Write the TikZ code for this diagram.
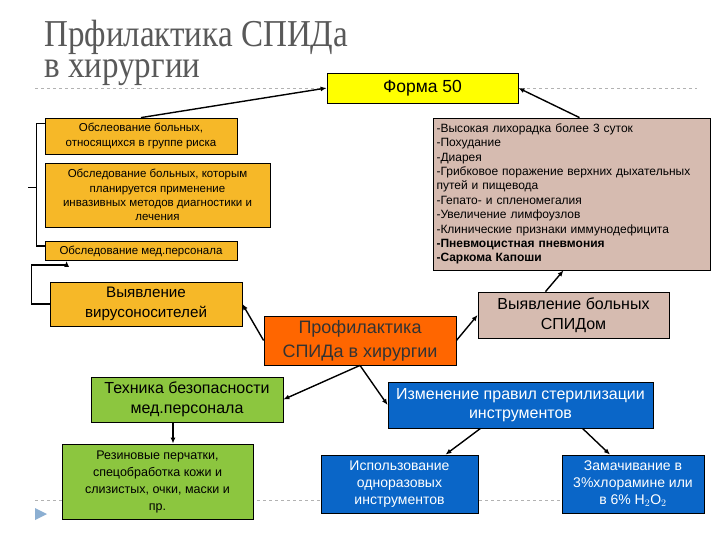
\documentclass[tikz,border=0pt]{standalone}
\usepackage{fontspec}
\setmainfont{Liberation Sans}
\setsansfont{Liberation Sans}
\newfontfamily\titlefont[FakeStretch=0.87]{Liberation Serif}
\usetikzlibrary{arrows.meta,positioning,calc}
\definecolor{formYellow}{RGB}{255,255,0}
\definecolor{checkGold}{RGB}{246,184,40}
\definecolor{signBrown}{RGB}{214,187,176}
\definecolor{coreOrange}{RGB}{255,102,0}
\definecolor{safeGreen}{RGB}{140,198,63}
\definecolor{sterBlue}{RGB}{10,102,200}
\definecolor{titleGray}{RGB}{89,89,89}
\definecolor{bulletBlue}{RGB}{140,175,210}
\newcommand{\fsz}[2]{\fontsize{#1}{#2}\selectfont}
\tikzset{hivpanel/.style={
  x=1pt, y=-1pt, font=\sffamily,
  box/.style={draw=black, line width=0.8pt, inner sep=1pt, align=center},
  gold/.style={box, fill=checkGold, font=\sffamily\fsz{11.5}{14.3}},
  brown/.style={box, fill=signBrown},
  green/.style={box, fill=safeGreen, font=\sffamily\fsz{16}{20}},
  blue/.style={box, fill=sterBlue, text=white},
  flow/.style={-{Latex[length=6pt,width=5pt]}, line width=1.4pt},
  wire/.style={line width=1.4pt},
  rule/.style={draw=black!30, dashed, line width=0.6pt},
  headline/.style={anchor=base west, inner sep=0pt, align=left, text=titleGray, font=\titlefont\fsz{38}{31}},
}}
\begin{document}
\begin{tikzpicture}[hivpanel]
\useasboundingbox[fill=white] (0,0) rectangle (720,540);
% ---------------- title and rules ----------------
\node[headline] (title) at (44,78) {Прфилактика СПИДа\\ в хирургии};
\draw[rule] (35,88) -- (697,88);
\draw[rule] (35,500) -- (697,500);
\fill[bulletBlue] (35,508) -- (47,514) -- (35,520) -- cycle;

% ---------------- top: Форма 50 ----------------
\node[box, fill=formYellow, minimum width=191, minimum height=30, font=\sffamily\fsz{17.5}{19}] (forma) at (422.5,88) {Форма 50};

% ---------------- left column: обследование ----------------
\node[gold, minimum width=192, minimum height=36] (risk) at (141,136) {Обслеование больных,\\ относящихся в группе риска};
\node[gold, minimum width=225, minimum height=64] (invas) at (157.5,195) {Обследование больных, которым\\ планируется применение\\ инвазивных методов диагностики и\\ лечения};
\node[gold, minimum width=192, minimum height=19] (staff) at (141,251) {Обследование мед.персонала};
\node[gold, minimum width=192, minimum height=44, font=\sffamily\fsz{15.2}{20}] (carriers) at (146,304) {Выявление\\ вирусоносителей};

% ---------------- right: признаки ----------------
\node[brown, minimum width=277, minimum height=152, align=left, text width=270, font=\sffamily\fsz{12}{14.4}] (symp) at (571.5,194) {%
  -Высокая лихорадка более 3 суток\\
  -Похудание\\
  -Диарея\\
  -Грибковое поражение верхних дыхательных\\
  путей и пищевода\\
  -Гепато- и спленомегалия\\
  -Увеличение лимфоузлов\\
  -Клинические признаки иммунодефицита\\
  \textbf{-Пневмоцистная пневмония}\\
  \textbf{-Саркома Капоши}};
\node[brown, minimum width=191, minimum height=46, font=\sffamily\fsz{16}{20}] (aids) at (573.5,315) {Выявление больных\\ СПИДом};

% ---------------- centre ----------------
\node[box, fill=coreOrange, text=black!80, minimum width=192, minimum height=49, font=\sffamily\fsz{18}{24}] (prof) at (360,340.5) {Профилактика\\ СПИДа в хирургии};

% ---------------- bottom left: защита персонала ----------------
\node[green, minimum width=192, minimum height=45] (tech) at (187,399.5) {Техника безопасности\\ мед.персонала};
\node[green, minimum width=191, minimum height=75, font=\sffamily\fsz{12.5}{17}] (gloves) at (157.5,481.5) {Резиновые перчатки,\\ спецобработка кожи и\\ слизистых, очки, маски и\\ пр.};

% ---------------- bottom right: стерилизация ----------------
\node[blue, minimum width=265, minimum height=46, font=\sffamily\fsz{16}{19}] (steril) at (520.5,405) {Изменение правил стерилизации\\ инструментов};
\node[blue, minimum width=157, minimum height=58, font=\sffamily\fsz{14}{17}] (disp) at (399.5,484) {Использование\\ одноразовых\\ инструментов};
\node[blue, minimum width=142, minimum height=58, font=\sffamily\fsz{14}{17}] (soak) at (633,484) {Замачивание в\\ 3\%хлорамине или\\ в 6\% H$_2$O$_2$};

% ---------------- connectors ----------------
\coordinate (stub) at (28,188);
\draw[wire] ([yshift=-6]risk.north west) -- ++(-8,0) |- ([yshift=-5]staff.north west);
\draw[line width=1pt] (stub) -- (37,188);
\draw[flow] (risk.north) -- (forma.west);
\draw[flow] ([xshift=8]symp.north) -- (forma.east);
\draw[flow] ([xshift=-28]aids.north) -- ([xshift=-8]symp.south);
\draw[flow] (carriers.west) -- ++(-18,0) |- ([xshift=22,yshift=-4]staff.south west) -- ([xshift=22]staff.south west);
\draw[flow] (prof.west) -- (carriers.east);
\draw[flow] (prof.east) -- (aids.west);
\draw[flow] (prof.south) -- (tech.east);
\draw[flow] (prof.south) -- (steril.west);
\draw[flow] ([xshift=-14]tech.south) -- ([xshift=-14]tech.south |- gloves.north);
\draw[flow] ([xshift=-40]steril.south) -- ([xshift=46]disp.north);
\draw[flow] ([xshift=62]steril.south) -- ([xshift=-23]soak.north);
\end{tikzpicture}
\end{document}
